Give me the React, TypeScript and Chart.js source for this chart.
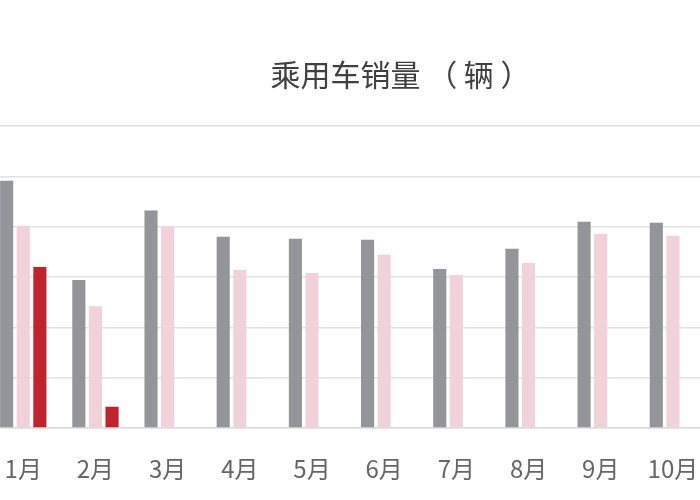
import React, { useEffect, useRef } from "react";
import { Chart, registerables } from "chart.js";

Chart.register(...registerables);

const months = ["1月", "2月", "3月", "4月", "5月", "6月", "7月", "8月", "9月", "10月"];
const sales2018 = [2455000, 1470000, 2160000, 1900000, 1880000, 1870000, 1580000, 1780000, 2050000, 2040000];
const sales2019 = [2010000, 1210000, 2000000, 1570000, 1540000, 1720000, 1520000, 1640000, 1930000, 1910000];
const sales2020 = [1600000, 210000, null, null, null, null, null, null, null, null];
const yTicks = [0, 500000, 1000000, 1500000, 2000000, 2500000, 3000000];

export default function App() {
  const ref = useRef<HTMLCanvasElement | null>(null);
  useEffect(() => {
    if (!ref.current) return;
    const chart = new Chart(ref.current, {
      type: "bar",
      data: {
        labels: months,
        datasets: [
          { label: "2018", data: sales2018, backgroundColor: "#949599" },
          { label: "2019", data: sales2019, backgroundColor: "#f1d2d8" },
          { label: "2020", data: sales2020, backgroundColor: "#c0232e" },
        ],
      },
      options: {
        animation: false,
        responsive: false,
        maintainAspectRatio: false,
        layout: { padding: 0 },
        datasets: { bar: { categoryPercentage: 0.69, barPercentage: 0.79 } },
        plugins: {
          legend: { display: false },
          tooltip: { enabled: false },
          title: {
            display: true,
            text: "乘用车销量 （ 辆 ）",
            color: "#404040",
            font: { size: 30, weight: "normal", family: "'Noto Sans CJK SC', 'Noto Sans', sans-serif" },
            padding: { top: 57, bottom: 33 },
          },
        },
        scales: {
          x: {
            grid: { display: false, drawTicks: false },
            border: { display: true, color: "#dcdcdc", width: 1.5 },
            ticks: {
              color: "#666666",
              padding: 26.6,
              maxRotation: 0,
              autoSkip: false,
              font: { size: 24, family: "'Noto Sans CJK SC', 'Noto Sans', sans-serif" },
            },
          },
          y: {
            position: "right",
            min: 0,
            max: 3000000,
            afterBuildTicks: (axis: any) => {
              axis.ticks = yTicks.map((v) => ({ value: v }));
            },
            afterFit: (axis: any) => {
              axis.width = 114;
            },
            grid: { color: "#e2e2e2", lineWidth: 1.5, drawTicks: false },
            border: { display: false },
            ticks: { display: false },
          },
        },
      },
    });
    return () => chart.destroy();
  }, []);
  return (
    <div style={{ position: "fixed", left: 0, top: 0, width: 700, height: 500, overflow: "hidden", background: "#fff" }}>
      <canvas ref={ref} width={845} height={510} style={{ position: "absolute", left: -22.5, top: 0, width: 845, height: 510 }} />
    </div>
  );
}
